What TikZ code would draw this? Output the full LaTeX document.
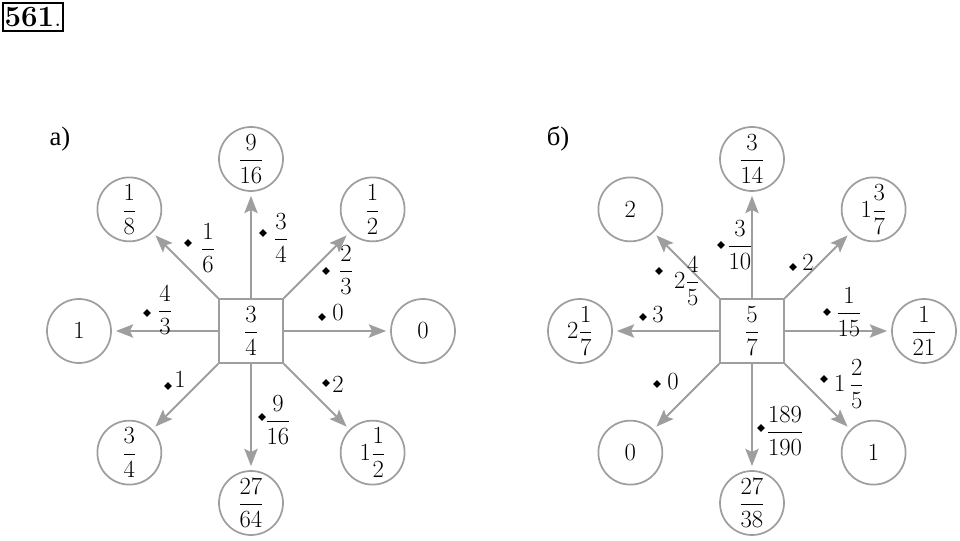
\documentclass[tikz,border=0pt]{standalone}
\usepackage{fix-cm}
\usepackage{amsmath}
\usepackage{fontspec}
\newfontfamily\cyr{Liberation Serif}
\usetikzlibrary{arrows.meta,shapes.geometric}

\begin{document}
\begin{tikzpicture}[x=0.75pt,y=0.75pt,
  ring/.style={circle,draw=black!38,line width=1.3pt,minimum size=48pt,inner sep=0pt,font=\fontsize{18.5}{22}\selectfont},
  hub/.style={rectangle,draw=black!38,line width=1.3pt,minimum size=48pt,inner sep=0pt,font=\fontsize{18.5}{22}\selectfont},
  arr/.style={draw=black!38,line width=1.4pt,-{Stealth[length=13pt,width=10pt,inset=2.5pt]},shorten >=3pt},
  dot/.style={diamond,fill=black,inner sep=0pt,minimum size=6pt},
  lbl/.style={inner sep=0pt,font=\fontsize{18.5}{22}\selectfont},
  part/.style={inner sep=0pt,font=\cyr\fontsize{20}{24}\selectfont}]
\useasboundingbox (0,0) rectangle (960,540);
\node[draw,line width=1.5pt,minimum width=45pt,minimum height=21pt,inner sep=0pt,
  font=\fontsize{22}{26}\selectfont] (num) at (33,523) {\textbf{561}.};
\node[part] (pa) at (60,401) {а)};
\node[part] (pb) at (558,401) {б)};

\begin{scope}[shift={(251,209)}]
  \node[hub] (a) at (0,0) {$\dfrac{3}{4}$};
  \node[ring] (a-n) at (90:172) {$\dfrac{9}{16}$};
  \node[ring] (a-nw) at (135:172) {$\dfrac{1}{8}$};
  \node[ring] (a-ne) at (45:172) {$\dfrac{1}{2}$};
  \node[ring] (a-w) at (180:172) {$1$};
  \node[ring] (a-e) at (0:172) {$0$};
  \node[ring] (a-sw) at (225:172) {$\dfrac{3}{4}$};
  \node[ring] (a-s) at (270:172) {$\dfrac{27}{64}$};
  \node[ring] (a-se) at (315:172) {$1\dfrac{1}{2}$};
  \draw[arr] (a.north) -- (a-n);
  \draw[arr] (a.north west) -- (a-nw);
  \draw[arr] (a.north east) -- (a-ne);
  \draw[arr] (a.west) -- (a-w);
  \draw[arr] (a.east) -- (a-e);
  \draw[arr] (a.south west) -- (a-sw);
  \draw[arr] (a.south) -- (a-s);
  \draw[arr] (a.south east) -- (a-se);
  \node[dot] (a-d1) at (-63,88) {};
  \node[lbl] (a-l1) at (-43,83) {$\dfrac{1}{6}$};
  \node[dot] (a-d2) at (12,98) {};
  \node[lbl] (a-l2) at (30,93) {$\dfrac{3}{4}$};
  \node[dot] (a-d3) at (75,60) {};
  \node[lbl] (a-l3) at (95,61) {$\dfrac{2}{3}$};
  \node[dot] (a-d4) at (-104,18) {};
  \node[lbl] (a-l4) at (-86,21) {$\dfrac{4}{3}$};
  \node[dot] (a-d5) at (71,14) {};
  \node[lbl] (a-l5) at (87,18) {$0$};
  \node[dot] (a-d6) at (-83,-55) {};
  \node[lbl] (a-l6) at (-71,-49) {$1$};
  \node[dot] (a-d7) at (11,-86) {};
  \node[lbl] (a-l7) at (27,-89) {$\dfrac{9}{16}$};
  \node[dot] (a-d8) at (75,-52) {};
  \node[lbl] (a-l8) at (87,-54) {$2$};
\end{scope}

\begin{scope}[shift={(752,209)}]
  \node[hub] (b) at (0,0) {$\dfrac{5}{7}$};
  \node[ring] (b-n) at (90:172) {$\dfrac{3}{14}$};
  \node[ring] (b-nw) at (135:172) {$2$};
  \node[ring] (b-ne) at (45:172) {$1\dfrac{3}{7}$};
  \node[ring] (b-w) at (180:172) {$2\dfrac{1}{7}$};
  \node[ring] (b-e) at (0:172) {$\dfrac{1}{21}$};
  \node[ring] (b-sw) at (225:172) {$0$};
  \node[ring] (b-s) at (270:172) {$\dfrac{27}{38}$};
  \node[ring] (b-se) at (315:172) {$1$};
  \draw[arr] (b.north) -- (b-n);
  \draw[arr] (b.north west) -- (b-nw);
  \draw[arr] (b.north east) -- (b-ne);
  \draw[arr] (b.west) -- (b-w);
  \draw[arr] (b.east) -- (b-e);
  \draw[arr] (b.south west) -- (b-sw);
  \draw[arr] (b.south) -- (b-s);
  \draw[arr] (b.south east) -- (b-se);
  \node[dot] (b-d1) at (-93,60) {};
  \node[lbl] (b-l1) at (-65,50) {$2\dfrac{4}{5}$};
  \node[dot] (b-d2) at (-31,86) {};
  \node[lbl] (b-l2) at (-12,86) {$\dfrac{3}{10}$};
  \node[dot] (b-d3) at (41,64) {};
  \node[lbl] (b-l3) at (56,68) {$2$};
  \node[dot] (b-d4) at (-109,14) {};
  \node[lbl] (b-l4) at (-94,16) {$3$};
  \node[dot] (b-d5) at (75,19) {};
  \node[lbl] (b-l5) at (97,19) {$\dfrac{1}{15}$};
  \node[dot] (b-d6) at (-95,-53) {};
  \node[lbl] (b-l6) at (-79,-51) {$0$};
  \node[dot] (b-d7) at (72,-48) {};
  \node[lbl] (b-l7) at (97,-53) {$1\,\dfrac{2}{5}$};
  \node[dot] (b-d8) at (9,-97) {};
  \node[lbl] (b-l8) at (33,-100) {$\dfrac{189}{190}$};
\end{scope}
\end{tikzpicture}
\end{document}
